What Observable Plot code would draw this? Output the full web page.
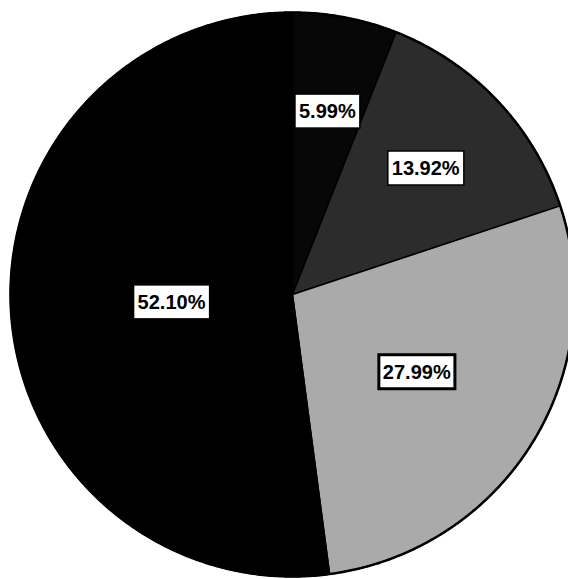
<!DOCTYPE html>
<html><head><meta charset="utf-8">
<script src="https://cdn.jsdelivr.net/npm/d3@7"></script>
<script src="https://cdn.jsdelivr.net/npm/@observablehq/plot@0.6"></script>
<style>body{margin:0;background:#fff}</style>
</head><body><div id="chart"></div>
<script>
// Slices clockwise from 12 o'clock
const categories = ["5.99%", "13.92%", "27.99%", "52.10%"];
const values = [5.99, 13.92, 27.99, 52.10];
const colors = ["#070707", "#2c2c2c", "#aaaaaa", "#000000"];
const labelDist = [0.66, 0.65, 0.52, 0.43];
const boxStroke = [1.5, 1.5, 3, 1.5];

const W = 568, H = 579, cx = 292, cy = 294, R = 282;
const total = d3.sum(values);
const poly = [];
const labels = [];
let acc = 0;
categories.forEach((c, i) => {
  const a0 = acc / total * 2 * Math.PI;
  acc += values[i];
  const a1 = acc / total * 2 * Math.PI;
  poly.push({category: c, x: 0, y: 0});
  const n = Math.max(2, Math.ceil((a1 - a0) / (Math.PI / 360)));
  for (let k = 0; k <= n; k++) {
    const a = a0 + (a1 - a0) * k / n;
    poly.push({category: c, x: Math.sin(a), y: -Math.cos(a)});
  }
  const am = (a0 + a1) / 2;
  labels.push({category: c, text: c, x: Math.sin(am) * labelDist[i], y: -Math.cos(am) * labelDist[i], sw: boxStroke[i]});
});
const ring = d3.range(0, 721).map(k => ({x: Math.sin(k / 720 * 2 * Math.PI), y: -Math.cos(k / 720 * 2 * Math.PI)}));

const svg = Plot.plot({
  width: W, height: H,
  margin: 0,
  x: {domain: [-cx / R, (W - cx) / R], range: [0, W], axis: null},
  y: {domain: [-cy / R, (H - cy) / R], range: [0, H], axis: null},
  color: {type: "ordinal", domain: categories, range: colors},
  style: {background: "#fff"},
  marks: [
    Plot.line(poly, {x: "x", y: "y", z: "category", fill: "category", stroke: "#000", strokeWidth: 1.5, curve: "linear-closed"}),
    Plot.line(ring, {x: "x", y: "y", stroke: "#000", strokeWidth: 2.5}),
    Plot.text(labels, {x: "x", y: "y", text: "text", fill: "#000", fontSize: 20, fontWeight: "bold", fontFamily: "Liberation Sans, Arial, sans-serif"})
  ]
});
document.getElementById("chart").append(svg);

// white boxes behind the labels
const ns = "http://www.w3.org/2000/svg";
const texts = svg.querySelectorAll('g[aria-label="text"] text');
texts.forEach((t, i) => {
  const b = t.getBBox();
  const r = document.createElementNS(ns, "rect");
  const padX = 4, h = 34;
  r.setAttribute("x", b.x - padX);
  r.setAttribute("y", b.y + b.height / 2 - h / 2);
  r.setAttribute("width", b.width + 2 * padX);
  r.setAttribute("height", h);
  r.setAttribute("fill", "#fff");
  r.setAttribute("stroke", "#000");
  r.setAttribute("stroke-width", labels[i] ? labels[i].sw : 1.5);
  if (t.getAttribute("transform")) r.setAttribute("transform", t.getAttribute("transform"));
  t.parentNode.insertBefore(r, t);
});
</script>
</body></html>
